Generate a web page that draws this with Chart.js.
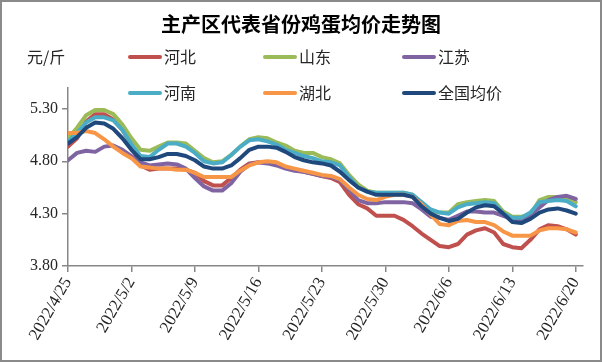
<!DOCTYPE html>
<html><head><meta charset="utf-8">
<script src="https://cdn.jsdelivr.net/npm/chart.js@4.4.1/dist/chart.umd.min.js"></script>
<style>html,body{margin:0;padding:0;background:#fff}canvas{display:block}</style>
</head><body>
<canvas id="c" width="602" height="362"></canvas>
<script>
// ---- data ----
const chartTitle = '主产区代表省份鸡蛋均价走势图';
const unitLabel = '元/斤';
const startDate = [2022, 4, 25];
const dayCount = 57;
const dates = [];
for (let i = 0; i < dayCount; i++) {
  const d = new Date(startDate[0], startDate[1] - 1, startDate[2] + i);
  dates.push(d.getFullYear() + '/' + (d.getMonth() + 1) + '/' + d.getDate());
}
const tickLabels = ['2022/4/25','2022/5/2','2022/5/9','2022/5/16','2022/5/23','2022/5/30','2022/6/6','2022/6/13','2022/6/20'];
const yTicks = [3.80, 4.30, 4.80, 5.30];
const seriesNames = ['河北','山东','江苏','河南','湖北','全国均价'];

const hebei = [4.94,5.02,5.18,5.25,5.25,5.20,5.10,4.96,4.76,4.72,
  4.73,4.73,4.73,4.72,4.69,4.61,4.57,4.57,4.64,4.72,
  4.78,4.79,4.79,4.78,4.74,4.72,4.70,4.68,4.66,4.64,
  4.60,4.48,4.39,4.35,4.28,4.28,4.28,4.24,4.18,4.11,
  4.05,3.99,3.98,4.01,4.10,4.14,4.16,4.12,4.01,3.98,
  3.97,4.05,4.15,4.19,4.18,4.15,4.10];
const shandong = [5.02,5.12,5.24,5.29,5.29,5.25,5.15,5.02,4.91,4.90,
  4.94,4.98,4.98,4.97,4.90,4.83,4.79,4.80,4.86,4.94,
  5.01,5.03,5.02,4.98,4.95,4.90,4.88,4.88,4.84,4.82,
  4.78,4.67,4.58,4.52,4.50,4.50,4.50,4.50,4.48,4.40,
  4.33,4.31,4.31,4.39,4.41,4.42,4.43,4.42,4.32,4.27,
  4.27,4.29,4.43,4.46,4.46,4.46,4.41];
const jiangsu = [4.81,4.88,4.90,4.89,4.94,4.95,4.91,4.85,4.79,4.76,
  4.77,4.78,4.77,4.73,4.64,4.56,4.52,4.52,4.59,4.70,
  4.77,4.79,4.78,4.76,4.73,4.71,4.70,4.68,4.66,4.65,
  4.62,4.53,4.43,4.40,4.40,4.41,4.41,4.41,4.40,4.34,
  4.27,4.26,4.24,4.28,4.32,4.32,4.31,4.31,4.28,4.25,
  4.24,4.29,4.36,4.43,4.46,4.47,4.44];
const henan = [4.99,5.07,5.17,5.22,5.22,5.19,5.10,4.96,4.85,4.84,
  4.91,4.97,4.97,4.94,4.88,4.80,4.78,4.79,4.86,4.94,
  5.00,5.01,4.99,4.96,4.91,4.88,4.85,4.83,4.80,4.79,
  4.76,4.65,4.55,4.51,4.50,4.50,4.50,4.50,4.48,4.41,
  4.34,4.31,4.30,4.36,4.39,4.40,4.41,4.40,4.30,4.26,
  4.26,4.31,4.41,4.42,4.43,4.42,4.37];
const hubei = [5.07,5.07,5.09,5.07,5.01,4.94,4.88,4.83,4.75,4.74,
  4.73,4.73,4.72,4.72,4.69,4.65,4.65,4.65,4.65,4.71,
  4.76,4.79,4.80,4.79,4.75,4.73,4.71,4.69,4.67,4.66,
  4.63,4.55,4.48,4.44,4.43,4.46,4.48,4.48,4.46,4.39,
  4.29,4.20,4.19,4.23,4.24,4.22,4.22,4.19,4.13,4.09,
  4.09,4.09,4.14,4.16,4.16,4.15,4.12];
const national = [4.97,5.03,5.12,5.17,5.16,5.11,5.02,4.91,4.82,4.82,
  4.84,4.87,4.87,4.85,4.81,4.75,4.73,4.73,4.76,4.83,
  4.91,4.94,4.94,4.93,4.89,4.84,4.81,4.79,4.78,4.76,
  4.70,4.62,4.55,4.51,4.48,4.48,4.48,4.48,4.46,4.37,
  4.30,4.26,4.23,4.25,4.31,4.36,4.38,4.37,4.30,4.22,
  4.21,4.25,4.31,4.34,4.35,4.33,4.30];

// ---- styles ----
const seriesValues = [hebei, shandong, jiangsu, henan, hubei, national];
const colors = ['#C0504D','#9BBB59','#8064A2','#4BACC6','#F79646','#1F497D'];
const axisColor = '#878787';
const textColor = '#262626';
const cjk = '"Noto Sans CJK SC", sans-serif';
const serif = '"Liberation Serif", "DejaVu Serif", serif';

const datasets = seriesNames.map((name, k) => ({
  label: name,
  data: seriesValues[k].map((v, i) => ({ x: i, y: v })),
  borderColor: colors[k],
  backgroundColor: colors[k],
  borderWidth: 4,
  pointRadius: 0,
  tension: 0,
  borderJoinStyle: 'round',
  borderCapStyle: 'round',
  order: seriesNames.length - k
}));

const legendCols = [128, 263, 402];
const legendRows = [57, 93];

const deco = {
  id: 'deco',
  beforeDraw(chart) {
    const c = chart.ctx;
    c.save();
    c.fillStyle = '#fff';
    c.fillRect(0, 0, chart.width, chart.height);
    c.restore();
  },
  afterDraw(chart) {
    const c = chart.ctx;
    c.save();
    c.strokeStyle = '#8a8a8a';
    c.lineWidth = 2;
    c.strokeRect(1, 1, chart.width - 2, chart.height - 2);
    c.fillStyle = '#000';
    c.textBaseline = 'middle';
    c.textAlign = 'center';
    c.font = 'bold 20px ' + cjk;
    c.fillText(chartTitle, 301, 24);
    c.textAlign = 'left';
    c.font = '16px ' + cjk;
    c.fillStyle = textColor;
    c.fillText(unitLabel, 27, 57);
    seriesNames.forEach((name, k) => {
      const x = legendCols[k % 3];
      const y = legendRows[Math.floor(k / 3)];
      c.strokeStyle = colors[k];
      c.lineWidth = 4;
      c.lineCap = 'round';
      c.beginPath();
      c.moveTo(x + 2, y);
      c.lineTo(x + 32, y);
      c.stroke();
      c.fillStyle = textColor;
      c.fillText(name, x + 36, y);
    });
    c.restore();
  }
};

new Chart(document.getElementById('c'), {
  type: 'line',
  data: { datasets },
  options: {
    responsive: false,
    animation: false,
    devicePixelRatio: 1,
    layout: { padding: { left: 0, right: 19, top: 88, bottom: 0 } },
    plugins: { legend: { display: false }, title: { display: false }, tooltip: { enabled: false } },
    scales: {
      x: {
        type: 'linear',
        min: 0,
        max: 56.8,
        afterBuildTicks(scale) { scale.ticks = tickLabels.map((t, i) => ({ value: i * 7 })); },
        afterFit(scale) { scale.height = 96; },
        grid: { display: true, drawOnChartArea: false, drawTicks: true, tickLength: 6, color: axisColor, lineWidth: 1.5 },
        border: { display: true, color: axisColor, width: 1.5 },
        ticks: {
          autoSkip: false,
          maxRotation: 60,
          minRotation: 60,
          padding: 2,
          color: textColor,
          font: { family: serif, size: 17 },
          callback(v, i) { return tickLabels[i]; }
        }
      },
      y: {
        min: 3.8,
        max: 5.5,
        afterBuildTicks(scale) { scale.ticks = yTicks.map(v => ({ value: v })); },
        afterFit(scale) { scale.width = 68; },
        grid: { display: true, drawOnChartArea: false, drawTicks: true, tickLength: 6, color: axisColor, lineWidth: 1.5 },
        border: { display: true, color: axisColor, width: 1.5 },
        ticks: {
          padding: 4,
          color: textColor,
          font: { family: serif, size: 16 },
          callback(v) { return Number(v).toFixed(2); }
        }
      }
    }
  },
  plugins: [deco]
});
</script>
</body></html>
